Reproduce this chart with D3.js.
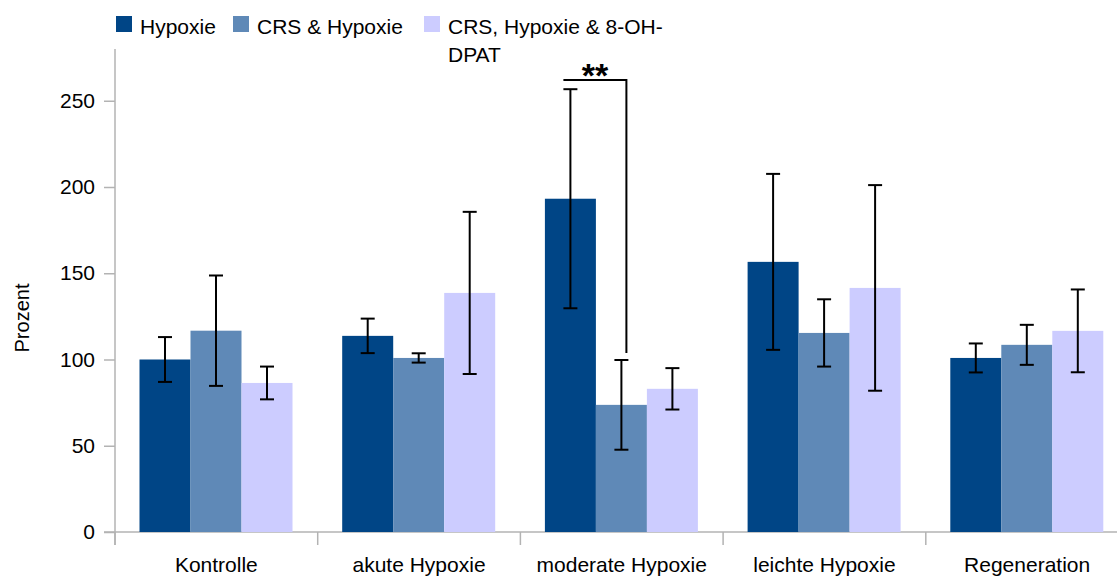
<!DOCTYPE html>
<html>
<head>
<meta charset="utf-8">
<script src="https://cdn.jsdelivr.net/npm/d3@7"></script>
<style>
  html, body { margin: 0; padding: 0; background: #fff; }
  svg { display: block; font-family: "Liberation Sans", Arial, sans-serif; }
</style>
</head>
<body>
<svg id="chart" width="1117" height="576"></svg>
<script>
// Groups along the x axis
const categories = ["Kontrolle", "akute Hypoxie", "moderate Hypoxie", "leichte Hypoxie", "Regeneration"];
// Series names (legend)
const seriesNames = ["Hypoxie", "CRS & Hypoxie", "CRS, Hypoxie & 8-OH-DPAT"];
// Mean values per series (Prozent)
const hypoxie      = [100.0, 113.7, 193.2, 156.6, 100.9];
const crsHypoxie   = [116.7, 100.9,  73.7, 115.4, 108.5];
const crsHypoxie8  = [ 86.4, 138.6,  83.0, 141.5, 116.6];
// Error bar half-widths per series
const hypoxieErr     = [13.0, 10.0, 63.5, 51.0,  8.4];
const crsHypoxieErr  = [32.0,  2.7, 26.0, 19.5, 11.6];
const crsHypoxie8Err = [ 9.5, 47.0, 12.0, 59.6, 24.0];
// Y axis ticks
const yTicks = [0, 50, 100, 150, 200, 250];
const colors = ["#004586", "#5f89b7", "#ccccff"];

const seriesValues = [hypoxie, crsHypoxie, crsHypoxie8];
const seriesErrors = [hypoxieErr, crsHypoxieErr, crsHypoxie8Err];

const svg = d3.select("#chart");
const left = 115, bandW = 202.7;
const y = d3.scaleLinear().domain([0, 280]).range([532, 49]);
const x = d3.scaleBand().domain(categories).range([left, left + bandW * categories.length]);
const xs = d3.scaleBand().domain(seriesNames).range([24.5, 24.5 + 153]);

const axisColor = "#b3b3b3";

// Y axis
const yAxis = svg.append("g").attr("transform", `translate(${left},0)`)
  .call(d3.axisLeft(y).tickValues(yTicks).tickSize(11).tickPadding(9));
yAxis.select(".domain").remove();
yAxis.selectAll(".tick line").attr("stroke", axisColor).attr("stroke-width", 1.5);
yAxis.selectAll(".tick text").attr("font-size", 21).attr("fill", "#000")
  .attr("font-family", "Liberation Sans, Arial, sans-serif");
svg.append("line").attr("x1", left).attr("x2", left).attr("y1", y(280)).attr("y2", 545)
  .attr("stroke", axisColor).attr("stroke-width", 1.5);

// X axis
svg.append("line").attr("x1", 104).attr("x2", 1117).attr("y1", y(0)).attr("y2", y(0))
  .attr("stroke", axisColor).attr("stroke-width", 1.5);
svg.selectAll(".xtick").data(categories).join("line")
  .attr("x1", d => x(d)).attr("x2", d => x(d))
  .attr("y1", y(0)).attr("y2", 545)
  .attr("stroke", axisColor).attr("stroke-width", 1.5);
svg.selectAll(".xlabel").data(categories).join("text")
  .attr("x", d => x(d) + x.bandwidth() / 2).attr("y", 572)
  .attr("text-anchor", "middle").attr("font-size", 21).attr("fill", "#000")
  .text(d => d);

// Y axis title
svg.append("text").attr("transform", "translate(29,318) rotate(-90)")
  .attr("text-anchor", "middle").attr("font-size", 20).attr("fill", "#000").text("Prozent");

// Bars
const rows = [];
seriesNames.forEach((s, i) => categories.forEach((c, j) => {
  rows.push({ s, i, c, v: seriesValues[i][j], e: seriesErrors[i][j] });
}));
svg.append("g").selectAll("rect").data(rows).join("rect")
  .attr("x", d => x(d.c) + xs(d.s))
  .attr("width", xs.bandwidth())
  .attr("y", d => y(d.v))
  .attr("height", d => y(0) - y(d.v))
  .attr("fill", d => colors[d.i]);

// Error bars
const eb = svg.append("g").attr("stroke", "#000").attr("stroke-width", 2);
rows.forEach(d => {
  const cx = x(d.c) + xs(d.s) + xs.bandwidth() / 2;
  eb.append("line").attr("x1", cx).attr("x2", cx).attr("y1", y(d.v + d.e)).attr("y2", y(d.v - d.e));
  eb.append("line").attr("x1", cx - 7).attr("x2", cx + 7).attr("y1", y(d.v + d.e)).attr("y2", y(d.v + d.e));
  eb.append("line").attr("x1", cx - 7).attr("x2", cx + 7).attr("y1", y(d.v - d.e)).attr("y2", y(d.v - d.e));
});

// Significance bracket: moderate Hypoxie, Hypoxie vs. CRS & Hypoxie
const mod = categories[2];
const bx1 = x(mod) + xs(seriesNames[0]) + xs.bandwidth() / 2 - 7;
const bx2 = x(mod) + xs(seriesNames[1]) + xs.bandwidth() / 2 + 5;
const by = y(262);
const sig = svg.append("g").attr("stroke", "#000").attr("stroke-width", 2).attr("fill", "none");
sig.append("path").attr("d", `M${bx1},${by}H${bx2}V${y(crsHypoxie[2] + crsHypoxieErr[2]) - 7}`);
svg.append("text").attr("x", (bx1 + bx2) / 2).attr("y", by + 7)
  .attr("text-anchor", "middle").attr("font-size", 34).attr("font-weight", "bold")
  .attr("fill", "#000").text("**");

// Legend
const legendItems = [
  { x: 116, lines: ["Hypoxie"] },
  { x: 233, lines: ["CRS & Hypoxie"] },
  { x: 424, lines: ["CRS, Hypoxie & 8-OH-", "DPAT"] }
];
const lg = svg.append("g");
legendItems.forEach((it, i) => {
  lg.append("rect").attr("x", it.x).attr("y", 16).attr("width", 16).attr("height", 16).attr("fill", colors[i]);
  const t = lg.append("text").attr("x", it.x + 24).attr("y", 34).attr("font-size", 21).attr("fill", "#000");
  it.lines.forEach((ln, k) => t.append("tspan").attr("x", it.x + 24).attr("dy", k === 0 ? 0 : 28).text(ln));
});
</script>
</body>
</html>
